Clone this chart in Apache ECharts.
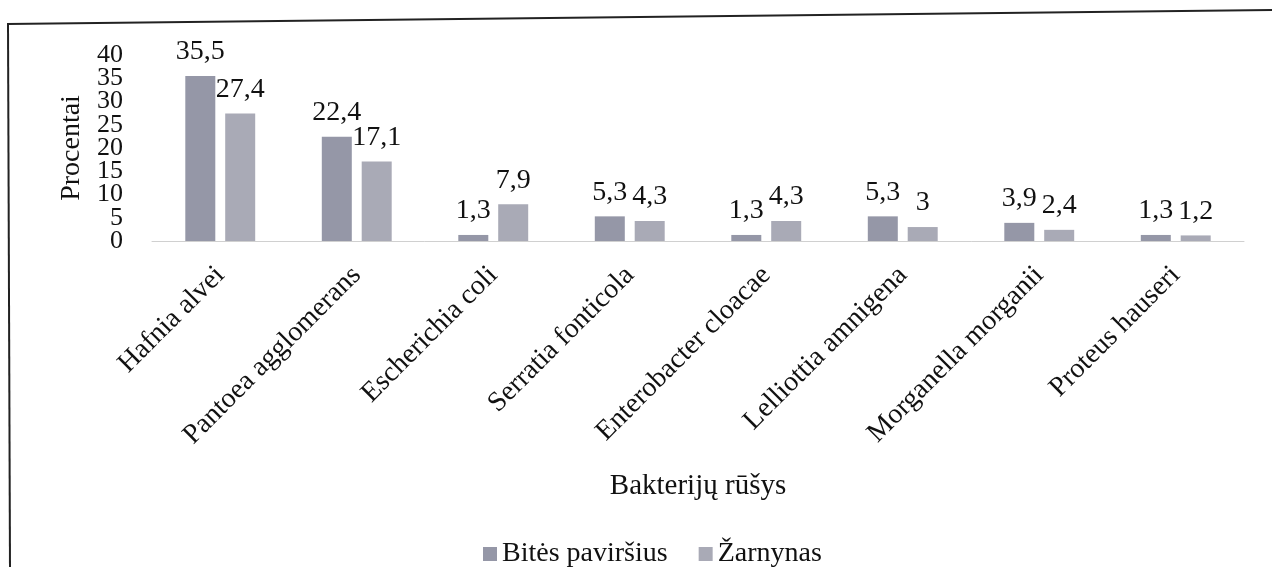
<!DOCTYPE html>
<html>
<head>
<meta charset="utf-8">
<script src="https://cdn.jsdelivr.net/npm/echarts@6/dist/echarts.min.js"></script>
<style>
  html, body { margin: 0; padding: 0; background: #ffffff; }
  #chart { width: 1282px; height: 567px; }
</style>
</head>
<body>
<div id="chart"></div>
<script>
const categories = ['Hafnia alvei', 'Pantoea agglomerans', 'Escherichia coli', 'Serratia fonticola', 'Enterobacter cloacae', 'Lelliottia amnigena', 'Morganella morganii', 'Proteus hauseri'];
const bitesPavirsius = [35.5, 22.4, 1.3, 5.3, 1.3, 5.3, 3.9, 1.3];
const zarnynas = [27.4, 17.1, 7.9, 4.3, 4.3, 3, 2.4, 1.2];
const yTicksEven = [0, 10, 20, 30, 40];
const yTicksOdd = [5, 15, 25, 35];

const FONT = '"Liberation Serif", "DejaVu Serif", serif';
const chart = echarts.init(document.getElementById('chart'), null, { renderer: 'canvas' });
const fmt = p => String(p.value).replace('.', ',');

const yBase = (ticks, withName) => ({
  type: 'value',
  position: 'left',
  offset: 0,
  min: 0, max: 40, interval: 5,
  name: withName ? 'Procentai' : '',
  nameLocation: 'middle',
  nameRotate: 90,
  nameGap: 66,
  nameTextStyle: { fontFamily: FONT, fontSize: 28, color: '#111' },
  axisLine: { show: false },
  axisTick: { show: false },
  splitLine: { show: false },
  axisLabel: { fontFamily: FONT, fontSize: 26, color: '#111', margin: 29,
    showMinLabel: true, showMaxLabel: true,
    formatter: v => ticks.includes(v) ? String(v) : '' }
});

chart.setOption({
  backgroundColor: '#ffffff',
  animation: false,
  textStyle: { fontFamily: FONT, color: '#111' },
  graphic: [
    { type: 'line', shape: { x1: 7, y1: 24, x2: 1272, y2: 10 }, style: { stroke: '#222', lineWidth: 2 } },
    { type: 'line', shape: { x1: 8, y1: 24, x2: 10, y2: 567 }, style: { stroke: '#222', lineWidth: 2 } }
  ],
  grid: { left: 152, right: 38, top: 55, bottom: 326, containLabel: false },
  legend: {
    data: ['Bitės paviršius', 'Žarnynas'],
    left: 478, top: 535,
    icon: 'rect', itemWidth: 14, itemHeight: 14, itemGap: 31,
    textStyle: { fontFamily: FONT, fontSize: 28, color: '#111' }
  },
  xAxis: {
    type: 'category',
    data: categories,
    name: 'Bakterijų rūšys',
    nameLocation: 'middle',
    nameGap: 231,
    nameTextStyle: { fontFamily: FONT, fontSize: 29, color: '#111' },
    axisLine: { show: true, lineStyle: { color: '#d0d0d0', width: 1 } },
    axisTick: { show: false },
    axisLabel: { rotate: 45, interval: 0, fontFamily: FONT, fontSize: 28, color: '#111', margin: 30, padding: [26, 0, 0, 0] }
  },
  yAxis: [yBase(yTicksEven, true), yBase(yTicksOdd, false)],
  series: [
    {
      name: 'Bitės paviršius', type: 'bar', data: bitesPavirsius, yAxisIndex: 0,
      barWidth: 30, barGap: '33%',
      itemStyle: { color: '#9597a7' },
      label: { show: true, position: 'top', distance: 10, formatter: fmt, fontFamily: FONT, fontSize: 28, color: '#111' }
    },
    {
      name: 'Žarnynas', type: 'bar', data: zarnynas, yAxisIndex: 0,
      barWidth: 30,
      itemStyle: { color: '#a9aab6' },
      label: { show: true, position: 'top', distance: 10, formatter: fmt, fontFamily: FONT, fontSize: 28, color: '#111' }
    }
  ]
});
</script>
</body>
</html>
